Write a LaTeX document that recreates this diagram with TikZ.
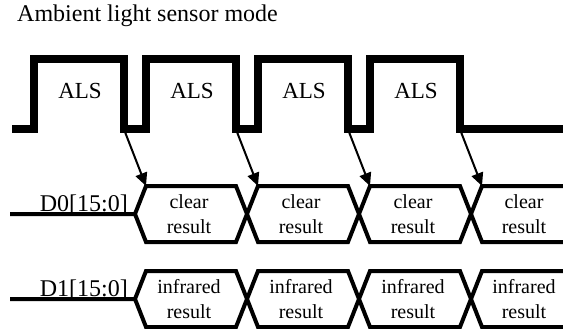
\documentclass[tikz,border=0pt]{standalone}
\usepackage{fontspec}
\setmainfont{Liberation Serif}
\usetikzlibrary{arrows.meta}
\begin{document}
\begin{tikzpicture}[x=1pt,y=-1pt,
  wave/.style={line width=7.5pt},
  bus/.style={line width=4pt},
  trig/.style={line width=2pt,-{Triangle[length=13pt,width=12pt]}},
  big/.style={font=\fontsize{24}{28}\selectfont, inner sep=0pt},
  als/.style={font=\fontsize{23}{28}\selectfont, inner sep=0pt, anchor=base},
  small/.style={font=\fontsize{20}{24}\selectfont, inner sep=0pt, anchor=base}]
\useasboundingbox (0,0) rectangle (563,329);
% title
\node[big, anchor=base west] (title) at (17,22) {Ambient light sensor mode};
% ALS waveform
\draw[wave] (12,129) -- (34,129) -- (34,59) -- (124,59) -- (124,129)
  -- (146,129) -- (146,59) -- (236,59) -- (236,129)
  -- (258,129) -- (258,59) -- (348,59) -- (348,129)
  -- (370,129) -- (370,59) -- (460,59) -- (460,129) -- (563,129);
\foreach \i/\r in {1/34,2/146,3/258,4/370}
  \node[als] (als\i) at ({\r+46},99) {ALS};
% buses
\foreach \M/\n in {214/0,299/1}{
  \pgfmathsetmacro{\T}{\M-28}
  \pgfmathsetmacro{\B}{\M+28}
  \draw[bus] (10,\M) -- (135,\M) -- (146,\T) -- (236,\T) -- (258,\B) -- (348,\B)
     -- (370,\T) -- (460,\T) -- (482,\B) -- (563,\B);
  \draw[bus] (135,\M) -- (146,\B) -- (236,\B) -- (258,\T) -- (348,\T)
     -- (370,\B) -- (460,\B) -- (482,\T) -- (563,\T);
}
\node[big, anchor=base east] (d0) at (128,211) {D0[15:0]};
\node[big, anchor=base east] (d1) at (128,296) {D1[15:0]};
\foreach \i/\x in {1/189,2/301,3/413,4/524}{
  \node[small] (clra\i) at (\x,208) {clear};
  \node[small] (clrb\i) at (\x,233) {result};
  \node[small] (ira\i) at (\x,293) {infrared};
  \node[small] (irb\i) at (\x,318) {result};
}
% trigger arrows
\foreach \i in {1,...,4}{
  \coordinate (f\i) at ({125+112*(\i-1)},132);
  \coordinate (t\i) at ({146+112*(\i-1)},186);
  \draw[trig] (f\i) -- (t\i);
}
\end{tikzpicture}
\end{document}
